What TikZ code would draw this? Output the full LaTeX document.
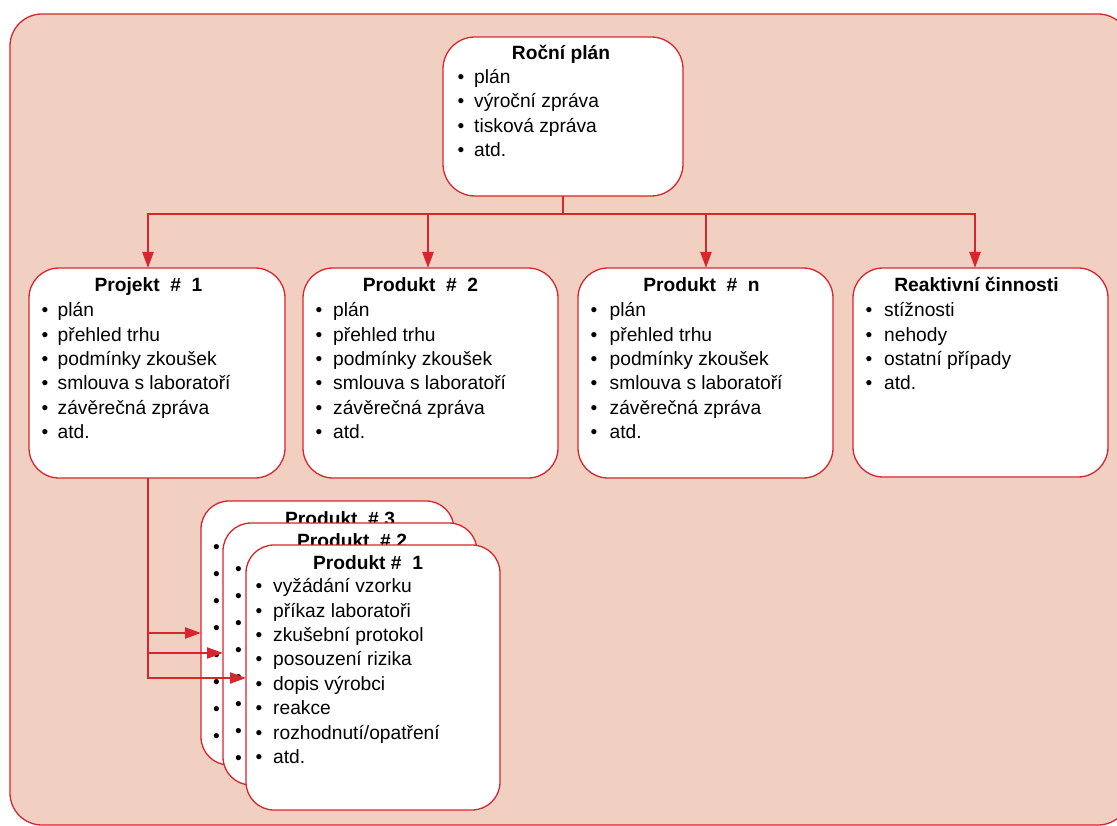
\documentclass[tikz,border=0pt]{standalone}
\usepackage{fontspec}
\setmainfont{Liberation Sans}
\usetikzlibrary{arrows.meta}

\definecolor{edge}{RGB}{216,38,46}
\definecolor{peach}{RGB}{242,208,193}

% rounded white card from (x1,y1) to (x2,y2)
\newcommand\card[6][30pt]{%
  \node[card, rounded corners=#1, minimum width={#5-#3}, minimum height={#6-#4}]
    (#2) at ({(#3+#5)/2},{(#4+#6)/2}) {};}

% bulleted rows: prefix, bullet x, text x, first baseline, step, items
\newcommand\itemrows[6]{%
  \foreach \txt [count=\k from 0] in {#6} {%
    \node[bul] (#1b\k) at (#2,{#4+\k*#5}) {•};
    \node[itm] (#1t\k) at (#3,{#4+\k*#5}) {\txt};
  }}

% bullets only: prefix, bullet x, first baseline, step, count
\newcommand\bulletrows[5]{%
  \foreach \k in {1,...,#5} {%
    \node[bul] (#1b\k) at (#2,{#3+(\k-1)*#4}) {•};
  }}

\begin{document}
\begin{tikzpicture}[x=1pt, y=-1pt,
  font=\fontsize{19.2}{24}\selectfont,
  card/.style={draw=edge, fill=white, line width=1.3pt, inner sep=0pt, outer sep=0pt},
  bul/.style={anchor=base, inner sep=0pt},
  itm/.style={anchor=base west, inner sep=0pt},
  ttl/.style={anchor=base, inner sep=0pt, font=\fontsize{19.2}{24}\selectfont\bfseries},
  link/.style={draw=edge, line width=2.2pt, line join=miter},
  arrow/.style={link, -{Triangle[length=16pt,width=11pt]}}]

\clip (0,0) rectangle (1117,826);

% background panel
\node[draw=edge, fill=peach, line width=1.3pt, rounded corners=32pt, inner sep=0pt,
      minimum width=1120, minimum height=811] (panel) at (570,419.5) {};

% annual plan
\card[32pt]{plan}{443}{37}{683}{196}
\node[ttl] (plan-title) at (561,59.3) {Roční plán};
\itemrows{plan}{461}{474}{83.3}{24.4}{plán,výroční zpráva,tisková zpráva,atd.}

% top row
\card{p1}{29}{268}{285}{478}
\node[ttl] (p1-title) at (148.5,291.5) {Projekt~~\#~~1};
\itemrows{p1}{45}{57.5}{316.7}{24.4}{plán,přehled trhu,podmínky zkoušek,smlouva s laboratoří,závěrečná zpráva,atd.}

\card{p2}{303}{268}{558}{478}
\node[ttl] (p2-title) at (420.5,291.5) {Produkt~~\#~~2};
\itemrows{p2}{319}{333}{316.7}{24.4}{plán,přehled trhu,podmínky zkoušek,smlouva s laboratoří,závěrečná zpráva,atd.}

\card{pn}{578}{268}{833}{478}
\node[ttl] (pn-title) at (701.5,291.5) {Produkt~~\#~~n};
\itemrows{pn}{594}{609.5}{316.7}{24.4}{plán,přehled trhu,podmínky zkoušek,smlouva s laboratoří,závěrečná zpráva,atd.}

\card{rc}{853}{268}{1108}{477}
\node[ttl] (rc-title) at (976.5,291.5) {Reaktivní činnosti};
\itemrows{rc}{869}{884}{316.7}{24.4}{stížnosti,nehody,ostatní případy,atd.}

% stacked product cards
\card[28pt]{s3}{201}{501}{454}{765}
\node[ttl] (s3-title) at (340,525) {Produkt~~\#~3};
\bulletrows{s3}{216.5}{553}{27}{8}

\card[28pt]{s2}{223}{523}{477}{785}
\node[ttl] (s2-title) at (352,547) {Produkt~~\#~2};
\bulletrows{s2}{238.5}{575}{27}{8}

\card[28pt]{s1}{246}{545}{500}{810}
\node[ttl] (s1-title) at (368,569.3) {Produkt~\#~~1};
\itemrows{s1}{259}{273}{592.7}{24.4}{vyžádání vzorku,příkaz laboratoři,zkušební protokol,posouzení rizika,dopis výrobci,reakce,rozhodnutí/opatření,atd.}

% distribution from the annual plan
\coordinate (j1) at (148,214);
\coordinate (j2) at (428,214);
\coordinate (j3) at (706,214);
\coordinate (j4) at (975,214);
\draw[link] (plan.south) -- (plan.south |- j1);
\draw[arrow] (plan.south |- j1) -- (j1) -- (j1 |- p1.north);
\draw[arrow] (plan.south |- j1) -- (j4) -- (j4 |- rc.north);
\draw[arrow] (j2) -- (j2 |- p2.north);
\draw[arrow] (j3) -- (j3 |- pn.north);

% project to product cards
\coordinate (k0) at (j1 |- p1.south);
\coordinate (kA) at (148,633);
\coordinate (kB) at (148,653);
\coordinate (kC) at (148,678);
\draw[arrow] (k0) -- (kC) -- (kC -| s1.west);
\draw[arrow] (kA) -- (kA -| s3.west);
\draw[arrow] (kB) -- (kB -| s2.west);
\end{tikzpicture}
\end{document}
